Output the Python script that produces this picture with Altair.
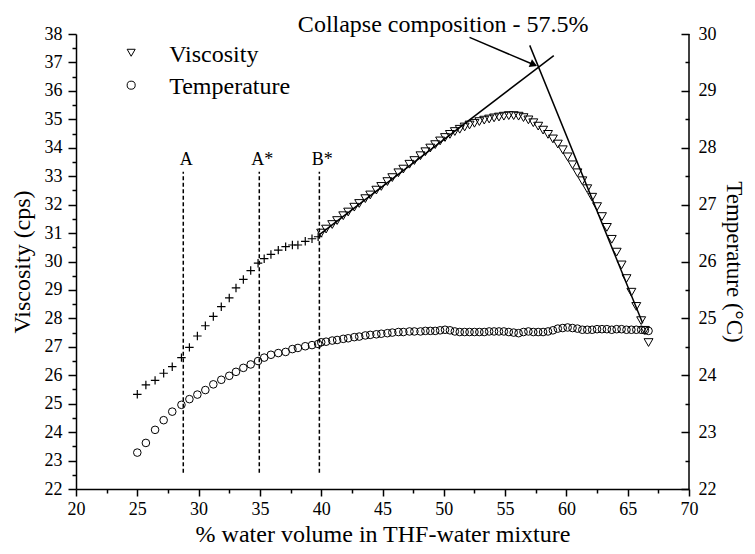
import altair as alt
import pandas as pd

FONT = "Liberation Serif"

# ---------------- data ----------------
# early measurements (viscosity shown as "+", temperature as circles)
x_early = [25.0, 25.7, 26.45, 27.15, 27.85, 28.6, 29.25, 29.9, 30.55, 31.2, 31.85, 32.5, 33.05,
           33.65, 34.25, 34.85, 35.35, 35.9, 36.5, 37.1, 37.65, 38.1, 38.7, 39.25, 39.75]
visc_early = [25.33, 25.66, 25.82, 26.07, 26.30, 26.62, 26.98, 27.38, 27.74, 28.07, 28.41, 28.72, 29.07,
              29.37, 29.68, 29.94, 30.10, 30.25, 30.40, 30.52, 30.58, 30.58, 30.71, 30.80, 30.87]
temp_early = [22.64, 22.81, 23.04, 23.21, 23.36, 23.48, 23.58, 23.66, 23.74, 23.84, 23.92, 23.99, 24.06,
              24.13, 24.19, 24.25, 24.31, 24.36, 24.39, 24.41, 24.46, 24.48, 24.51, 24.53, 24.55]

# later measurements (viscosity shown as down-triangles)
x_late = [40.0, 40.4, 40.9, 41.3, 41.8, 42.2, 42.7, 43.1, 43.6, 44.0, 44.5, 44.9, 45.4, 45.8, 46.3,
          46.7, 47.2, 47.6, 48.1, 48.5, 48.9, 49.3, 49.7,
          50.1, 50.5, 50.9, 51.3, 51.7, 52.1, 52.5, 52.9, 53.3, 53.7, 54.1, 54.5, 54.9, 55.3, 55.7,
          56.1, 56.5, 56.9, 57.3, 57.7, 58.1, 58.5, 58.9, 59.3, 59.7,
          60.1, 60.5, 60.9, 61.3, 61.7, 62.1, 62.5, 62.9, 63.3, 63.7, 64.1, 64.5, 64.9, 65.3, 65.7,
          66.1, 66.4, 66.7]
visc_late = [31.00, 31.14, 31.30, 31.44, 31.61, 31.74, 31.91, 32.04, 32.21, 32.34, 32.51, 32.64, 32.81,
             32.95, 33.12, 33.25, 33.42, 33.55, 33.72, 33.86, 33.99, 34.11, 34.24,
             34.36, 34.47, 34.57, 34.65, 34.73, 34.80, 34.86, 34.92, 34.97, 35.01, 35.05, 35.08, 35.11,
             35.13, 35.13, 35.11, 35.06, 34.98, 34.88, 34.76, 34.62, 34.47, 34.31, 34.13, 33.93,
             33.68, 33.40, 33.12, 32.84, 32.56, 32.26, 31.93, 31.58, 31.20, 30.78, 30.33, 29.88, 29.40,
             28.92, 28.42, 27.92, 27.58, 27.15]
temp_late = [24.58, 24.59, 24.61, 24.62, 24.64, 24.65, 24.67, 24.68, 24.70, 24.71, 24.72, 24.73, 24.74,
             24.75, 24.76, 24.76, 24.77, 24.77, 24.77, 24.78, 24.78, 24.78, 24.79,
             24.80, 24.79, 24.77, 24.76, 24.76, 24.76, 24.76, 24.76, 24.76, 24.77, 24.77, 24.77, 24.77,
             24.76, 24.75, 24.74, 24.76, 24.77, 24.76, 24.76, 24.76, 24.77, 24.79, 24.82, 24.83,
             24.84, 24.83, 24.82, 24.80, 24.80, 24.80, 24.81, 24.81, 24.81, 24.80, 24.81, 24.81, 24.80,
             24.80, 24.80, 24.80, 24.79, 24.78]

# tangent lines (two segments)
tan_id = ["rise", "rise", "fall", "fall"]
tan_x = [39.8, 58.97, 57.01, 66.22]
tan_y = [30.93, 37.24, 37.60, 27.83]

# arrow to the intersection
arrow_x = [52.1, 57.45]
arrow_y = [37.88, 36.90]
arrow_head = {"x": [57.33], "y": [36.925]}

# vertical dashed markers
mark_names = ["A", "A*", "B*"]
mark_x = [28.75, 34.95, 39.85]
mark_y0 = 22.57
mark_y1 = 33.16
mark_label_y = 33.40

annot_text = "Collapse composition - 57.5%"
annot_x = 49.95
annot_y = 38.08

legend_names = ["Viscosity", "Temperature"]
legend_sym_x = 24.5
legend_sym_y = [37.34, 36.2]
legend_text_x = 27.6
legend_text_y = [37.03, 35.90]

# axes tick values
x_ticks = [20 + 2.5 * i for i in range(21)]
v_ticks = [22 + 0.5 * i for i in range(33)]
t_ticks = [22 + 0.5 * i for i in range(17)]

# ---------------- chart ----------------
xs = alt.Scale(domain=[20, 70], nice=False, zero=False)
vs = alt.Scale(domain=[22, 38], nice=False, zero=False)
ts = alt.Scale(domain=[22, 30], nice=False, zero=False)

maj5 = "datum.value % 5 === 0"
maj1 = "datum.value % 1 === 0"

common = dict(grid=False, labelFont=FONT, titleFont=FONT, labelFontSize=18,
              titleFontWeight="normal", labelColor="black", titleColor="black", domainColor="black",
              tickColor="black", domainWidth=1.5, tickWidth=1.5, labelOverlap=False, labelFlush=False)

x_axis = alt.Axis(values=x_ticks, title="% water volume in THF-water mixture",
                  labelExpr=f"{maj5} ? format(datum.value, 'd') : ''",
                  tickSize={"condition": {"test": maj5, "value": 7}, "value": 4},
                  labelPadding=4, titleFontSize=24, titleBaseline="alphabetic", titleY=52, **common)
v_axis = alt.Axis(values=v_ticks, title="Viscosity (cps)", orient="left",
                  labelExpr=f"{maj1} ? format(datum.value, 'd') : ''",
                  tickSize={"condition": {"test": maj1, "value": 8}, "value": 4},
                  labelPadding=6, titleFontSize=24, titlePadding=10, **common)
t_axis = alt.Axis(values=t_ticks, title="Temperature (°C)", orient="right", offset=-8,
                  domain=False, tickSize=8,
                  tickDash={"condition": {"test": maj1, "value": [8, 0]}, "value": [0, 4, 4, 0]},
                  labelExpr=f"{maj1} ? format(datum.value, 'd') : ''",
                  labelPadding=9, titleFontSize=23, titlePadding=5, **common)

X = alt.X("x:Q", scale=xs, axis=x_axis)
Y = alt.Y("y:Q", scale=vs, axis=v_axis)

df_early = pd.DataFrame({"x": x_early, "y": visc_early})
df_late = pd.DataFrame({"x": x_late, "y": visc_late})
df_temp = pd.DataFrame({"x": x_early + x_late, "y": temp_early + temp_late})
df_tan = pd.DataFrame({"id": tan_id, "x": tan_x, "y": tan_y})
df_arrow = pd.DataFrame({"x": arrow_x, "y": arrow_y})
df_head = pd.DataFrame(arrow_head)
df_marks = pd.DataFrame({"name": mark_names, "x": mark_x, "y": [mark_y0] * 3, "y2": [mark_y1] * 3,
                         "ly": [mark_label_y] * 3})
df_border = pd.DataFrame({"x": [70], "y": [22], "y2": [38]})
df_annot = pd.DataFrame({"t": [annot_text], "x": [annot_x], "y": [annot_y]})
df_leg_sym = pd.DataFrame({"name": legend_names, "x": [legend_sym_x] * 2, "y": legend_sym_y})
df_leg_txt = pd.DataFrame({"name": legend_names, "x": [legend_text_x] * 2, "y": legend_text_y})

plus = "M-1,0L1,0M0,-1L0,1"

l_plus = alt.Chart(df_early).mark_point(shape=plus, size=72, filled=False, color="black",
                                        strokeWidth=1.2, opacity=1).encode(x=X, y=Y)
l_tri = alt.Chart(df_late).mark_point(shape="triangle-down", size=80, filled=False, color="black",
                                      strokeWidth=1, opacity=1).encode(x=X, y=Y)
l_tan = alt.Chart(df_tan).mark_line(color="black", strokeWidth=1.5).encode(x=X, y=Y, detail="id:N")
l_arrow = alt.Chart(df_arrow).mark_line(color="black", strokeWidth=1.5).encode(x=X, y=Y)
l_head = alt.Chart(df_head).mark_point(shape="triangle-right", angle=23, size=70, filled=True,
                                       color="black", opacity=1).encode(x=X, y=Y)
l_rules = alt.Chart(df_marks).mark_rule(color="black", strokeWidth=1.5, strokeDash=[4, 2.5]).encode(
    x=X, y=Y, y2="y2:Q")
l_mlabels = alt.Chart(df_marks).mark_text(font=FONT, fontSize=18, color="black", align="center",
                                          baseline="alphabetic", dx=3).encode(
    x=X, y=alt.Y("ly:Q", scale=vs, axis=v_axis), text="name:N")
l_border = alt.Chart(df_border).mark_rule(color="black", strokeWidth=1.5).encode(x=X, y=Y, y2="y2:Q")
l_annot = alt.Chart(df_annot).mark_text(font=FONT, fontSize=24, color="black", align="center",
                                        baseline="alphabetic").encode(x=X, y=Y, text="t:N")
l_leg_sym = alt.Chart(df_leg_sym).mark_point(filled=False, color="black", strokeWidth=1, opacity=1,
                                             size=65).encode(
    x=X, y=Y,
    shape=alt.Shape("name:N", scale=alt.Scale(domain=legend_names, range=["triangle-down", "circle"]),
                    legend=None))
l_leg_txt = alt.Chart(df_leg_txt).mark_text(font=FONT, fontSize=24, color="black", align="left",
                                            baseline="alphabetic").encode(x=X, y=Y, text="name:N")

left = alt.layer(l_rules, l_tan, l_arrow, l_head, l_plus, l_tri, l_mlabels, l_border, l_annot,
                 l_leg_sym, l_leg_txt)

right = alt.Chart(df_temp).mark_point(shape="circle", size=58, filled=False, color="black",
                                      strokeWidth=1, opacity=1).encode(
    x=X, y=alt.Y("y:Q", scale=ts, axis=t_axis))

chart = alt.layer(left, right).resolve_scale(y="independent").properties(
    width=613, height=455,
    autosize=alt.AutoSizeParams(type="none"),
    padding={"left": 68, "top": 26, "right": 58, "bottom": 57},
).configure_view(strokeWidth=0)

chart.save("out.html", embed_options={"renderer": "svg", "actions": False})
